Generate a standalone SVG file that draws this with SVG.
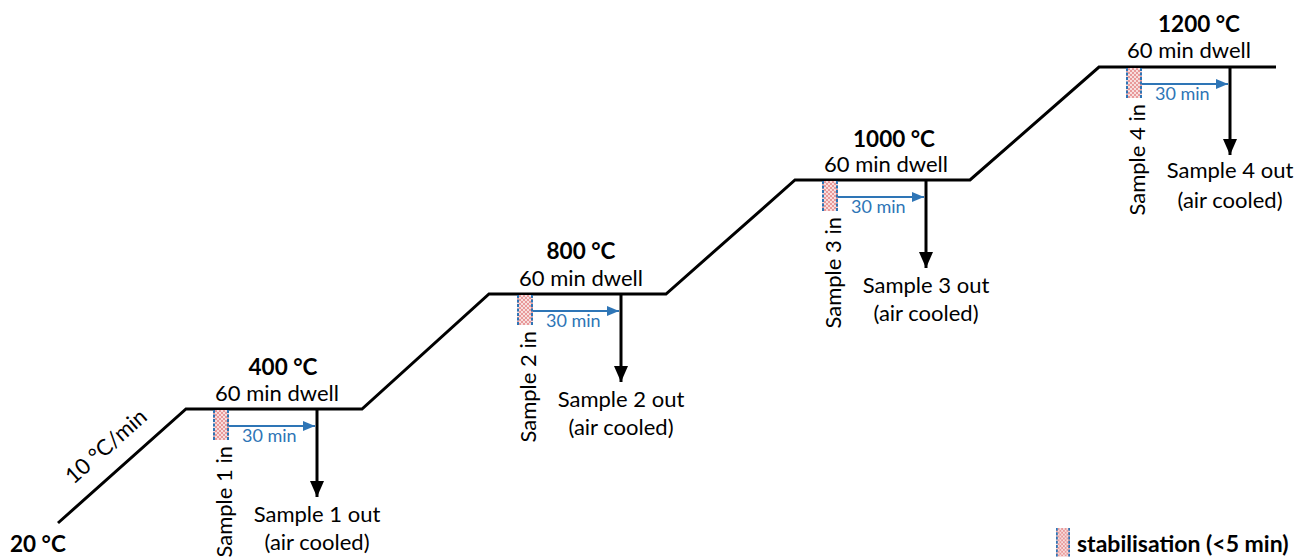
<svg xmlns="http://www.w3.org/2000/svg" width="1305" height="559" viewBox="0 0 1305 559">
<defs>
<pattern id="stab" width="4" height="4" patternUnits="userSpaceOnUse">
<rect width="4" height="4" fill="#e8999a"/>
<circle cx="1" cy="1" r="0.9" fill="#ffffff"/>
<circle cx="3" cy="3" r="0.9" fill="#ffffff"/>
</pattern>
<marker id="ab" markerWidth="12" markerHeight="11" refX="12" refY="5.5" orient="auto" markerUnits="userSpaceOnUse">
<path d="M0,0.5 L12,5.5 L0,10.5 Z" fill="#2e75b6"/>
</marker>
<marker id="ak" markerWidth="14" markerHeight="16" refX="7" refY="16" orient="0" markerUnits="userSpaceOnUse">
<path d="M0,0 L14,0 L7,16 Z" fill="#000"/>
</marker>
<g id="stabbox">
<rect x="0" y="0" width="16" height="30" fill="url(#stab)"/>
<line x1="1" y1="0" x2="1" y2="30" stroke="#2e75b6" stroke-width="2" stroke-dasharray="3,1.5"/>
<line x1="15" y1="0" x2="15" y2="30" stroke="#2e75b6" stroke-width="2" stroke-dasharray="3,1.5"/>
</g>
</defs>
<style>
text{font-family:Lato,"Liberation Sans",sans-serif;fill:#000}
.t{font-size:22px}
.b{font-size:22.5px;font-weight:bold}
.m{text-anchor:middle}
.blue{font-size:18px;fill:#2e75b6}
.lg{font-size:23px;font-weight:bold}
.bl{stroke:#2e75b6;stroke-width:2;fill:none}
.k{stroke:#000;stroke-width:3;fill:none}
</style>
<g id="connectors">
<polyline class="k" points="58,523 186,409 362,409 489,294 666,294 795,180 970,180 1099,67 1276,67"/>
</g>
<g id="ramp-label">
<text class="t m" transform="translate(111,452) rotate(-41.4)">10 °C/min</text>
</g>
<g id="start">
<text class="b" x="10" y="552">20 °C</text>
</g>
<g id="step1" transform="translate(186,409)">
<text class="b m" x="97" y="-34">400 °C</text>
<text class="t m" x="91" y="-8">60 min dwell</text>
<use href="#stabbox" x="27" y="1"/>
<line class="bl" x1="43" y1="17" x2="129" y2="17" marker-end="url(#ab)"/>
<text class="blue" x="56" y="33">30 min</text>
<line class="k" x1="131" y1="0" x2="131" y2="88" marker-end="url(#ak)"/>
<text class="t" transform="translate(46,37) rotate(-90)" text-anchor="end">Sample 1 in</text>
<text class="t m" x="131" y="113">Sample 1 out</text>
<text class="t m" x="131" y="141">(air cooled)</text>
</g>
<g id="step2" transform="translate(490,294)">
<text class="b m" x="91" y="-35">800 °C</text>
<text class="t m" x="91" y="-8">60 min dwell</text>
<use href="#stabbox" x="27" y="1"/>
<line class="bl" x1="43" y1="17" x2="129" y2="17" marker-end="url(#ab)"/>
<text class="blue" x="56" y="33">30 min</text>
<line class="k" x1="131" y1="0" x2="131" y2="88" marker-end="url(#ak)"/>
<text class="t" transform="translate(46,37) rotate(-90)" text-anchor="end">Sample 2 in</text>
<text class="t m" x="131" y="113">Sample 2 out</text>
<text class="t m" x="131" y="141">(air cooled)</text>
</g>
<g id="step3" transform="translate(795,180)">
<text class="b m" x="99" y="-33">1000 °C</text>
<text class="t m" x="91" y="-8">60 min dwell</text>
<use href="#stabbox" x="27" y="1"/>
<line class="bl" x1="43" y1="17" x2="129" y2="17" marker-end="url(#ab)"/>
<text class="blue" x="56" y="33">30 min</text>
<line class="k" x1="131" y1="0" x2="131" y2="88" marker-end="url(#ak)"/>
<text class="t" transform="translate(46,37) rotate(-90)" text-anchor="end">Sample 3 in</text>
<text class="t m" x="131" y="113">Sample 3 out</text>
<text class="t m" x="131" y="141">(air cooled)</text>
</g>
<g id="step4" transform="translate(1099,67)">
<text class="b m" x="100" y="-35">1200 °C</text>
<text class="t m" x="90" y="-9">60 min dwell</text>
<use href="#stabbox" x="27" y="1"/>
<line class="bl" x1="43" y1="17" x2="129" y2="17" marker-end="url(#ab)"/>
<text class="blue" x="56" y="33">30 min</text>
<line class="k" x1="131" y1="0" x2="131" y2="88" marker-end="url(#ak)"/>
<text class="t" transform="translate(46,37) rotate(-90)" text-anchor="end">Sample 4 in</text>
<text class="t m" x="131" y="111">Sample 4 out</text>
<text class="t m" x="131" y="141">(air cooled)</text>
</g>
<g id="legend">
<use href="#stabbox" x="1056" y="528" transform="translate(1056,528) scale(0.875,0.95) translate(-1056,-528)"/>
<text class="lg" x="1077" y="552">stabilisation (&lt;5 min)</text>
</g>
</svg>
